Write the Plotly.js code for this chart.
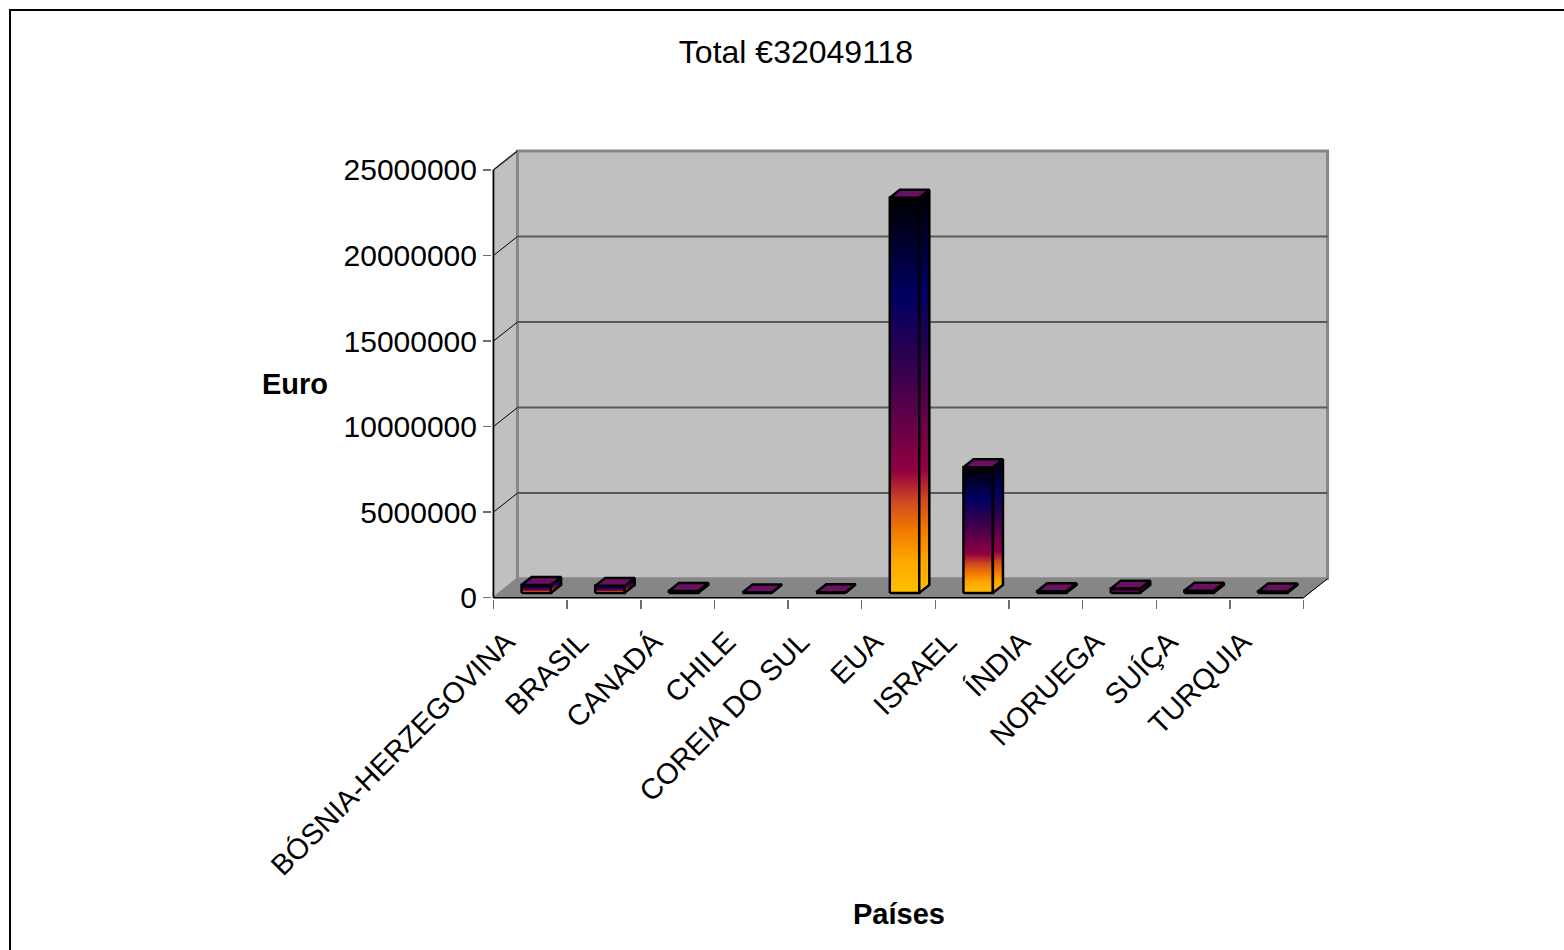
<!DOCTYPE html>
<html>
<head>
<meta charset="utf-8">
<script src="https://cdn.plot.ly/plotly-3.0.1.min.js"></script>
<style>
  html, body { margin: 0; padding: 0; background: #fff; overflow: hidden; }
  #chart { width: 1564px; height: 950px; }
  #frame { position: absolute; left: 9px; top: 9px; width: 1600px; height: 1000px;
           border-top: 2px solid #000; border-left: 2px solid #000; pointer-events: none; }
</style>
</head>
<body>
<div id="chart"></div>
<div id="frame"></div>
<script>
// Exportações por país (Euro)
const paises = ['BÓSNIA-HERZEGOVINA', 'BRASIL', 'CANADÁ', 'CHILE', 'COREIA DO SUL',
                'EUA', 'ISRAEL', 'ÍNDIA', 'NORUEGA', 'SUÍÇA', 'TURQUIA'];
const valores = [460000, 410000, 110000, 30000, 40000,
                 23100000, 7350000, 100000, 250000, 120000, 80000];
const yTicks = [0, 5000000, 10000000, 15000000, 20000000, 25000000];
const titulo = 'Total €32049118';
const tituloY = 'Euro';
const tituloX = 'Países';

// Page geometry (pixels) of the front frame of the 3D box
const W = 1564, H = 950;
const xLeftPx = 491, unitPx = 73.64;     // x = -0.5 sits at xLeftPx
const yZeroPx = 598, pxPerVal = 17.12e-6; // value 0 sits at yZeroPx
const depthPx = [24, 19];                 // offset of the back wall
const xRange = [-0.52, 10.9];
const yRange = [-80000, 26400000];

const l = Math.round(xLeftPx - (xRange[0] + 0.5) * unitPx);
const plotW = (xRange[1] - xRange[0]) * unitPx;
const r = Math.round(W - l - plotW);
const b = Math.round(H - (yZeroPx - yRange[0] * pxPerVal));
const t = Math.round(yZeroPx - yRange[1] * pxPerVal);
const plotH = H - t - b;

const dX = depthPx[0] / unitPx;     // depth in x units
const dY = depthPx[1] / pxPerVal;   // depth in value units
const yTop = yTicks[yTicks.length - 1];
const n = paises.length;
const x0 = -0.5, x1 = n - 0.5;

const px2paperX = px => (px - l) / (W - l - r);
const px2paperY = py => (H - b - py) / plotH;

function poly(xs, ys, extra) {
  return Object.assign({
    type: 'scatter', mode: 'lines',
    x: xs.concat([xs[0]]), y: ys.concat([ys[0]]),
    fill: 'toself', hoverinfo: 'skip', showlegend: false
  }, extra);
}
function seg(xs, ys, color, width) {
  return { type: 'scatter', mode: 'lines', x: xs, y: ys, hoverinfo: 'skip',
           showlegend: false, line: { color: color, width: width } };
}

const traces = [];
const wallGray = '#c0c0c0', edgeGray = '#878787';

// floor
traces.push(poly([x0, x1, x1 + dX, x0 + dX], [0, 0, dY, dY],
  { fillcolor: '#868686', line: { color: '#868686', width: 1 } }));
// left wall
traces.push(poly([x0, x0 + dX, x0 + dX, x0], [0, dY, yTop + dY, yTop],
  { fillcolor: wallGray, line: { color: edgeGray, width: 2 } }));
// back wall
traces.push(poly([x0 + dX, x1 + dX, x1 + dX, x0 + dX], [dY, dY, yTop + dY, yTop + dY],
  { fillcolor: wallGray, line: { color: edgeGray, width: 3 } }));
// gridlines on back wall and diagonals on left wall
yTicks.forEach(v => {
  if (v > 0 && v < yTop) traces.push(seg([x0 + dX, x1 + dX], [v + dY, v + dY], '#5a5a5a', 2));
  if (v > 0) traces.push(seg([x0, x0 + dX], [v, v + dY], '#000', 1));
});
// floor right side edge
traces.push(seg([x1, x1 + dX], [0, dY], '#000', 1));
// front axis lines
traces.push(seg([x0, x0], [0, yTop], '#000', 1.5));
traces.push(seg([x0, x1], [0, 0], '#000', 1.5));

// bars
const rampa = [
  [0.00, '#ffc000'], [0.08, '#ffa800'], [0.16, '#f07800'], [0.23, '#d04a20'],
  [0.31, '#900040'], [0.43, '#640048'], [0.60, '#2a0050'], [0.75, '#000062'],
  [0.90, '#000028'], [1.00, '#000000']
];
const hw = 0.2, fa = 0.25, fb = 0.67;
const barLine = { color: '#000', width: 2.5 };
valores.forEach((v, i) => {
  const L = i - hw + fa * dX, R = i + hw + fa * dX;
  const Rb = i + hw + fb * dX, Lb = i - hw + fb * dX;
  const ya = fa * dY, yb = fb * dY;
  traces.push(poly([L, R, R, L], [ya, ya, v + ya, v + ya],
    { line: barLine, fillgradient: { type: 'vertical', colorscale: rampa } }));
  traces.push(poly([R, Rb, Rb, R], [ya, yb, v + yb, v + ya],
    { line: barLine, fillgradient: { type: 'vertical', colorscale: rampa } }));
  traces.push(poly([L, R, Rb, Lb], [v + ya, v + ya, v + yb, v + yb],
    { line: barLine, fillcolor: '#6a1060' }));
});

const fam = 'Liberation Sans, Arial, sans-serif';
const font = { family: fam, size: 29, color: '#000' };

const layout = {
  width: W, height: H,
  margin: { l: l, r: r, t: t, b: b, pad: 0 },
  paper_bgcolor: '#fff', plot_bgcolor: 'rgba(0,0,0,0)',
  showlegend: false,
  font: font,
  title: { text: titulo, font: { family: fam, size: 32, color: '#000' },
           x: 796 / W, xanchor: 'center',
           yref: 'container', y: 1 - 52 / H, yanchor: 'middle' },
  xaxis: {
    range: xRange, showgrid: false, zeroline: false, showline: false,
    tickmode: 'array', tickvals: paises.map((_, i) => i), ticktext: paises,
    ticks: '', tickangle: -45, tickfont: font,
    ticklabelstandoff: 19, ticklabelshift: -24,
    minor: { tickmode: 'linear', tick0: -0.5, dtick: 1, ticks: 'outside',
             ticklen: 9, tickwidth: 1.5, tickcolor: '#6e6e6e', showgrid: false },
    fixedrange: true
  },
  yaxis: {
    range: yRange, showgrid: false, zeroline: false, showline: false,
    tickmode: 'array', tickvals: yTicks, tickformat: 'd',
    ticks: 'outside', ticklen: 8, tickwidth: 1.5, tickcolor: '#6e6e6e',
    tickfont: { family: fam, size: 30, color: '#000' },
    ticklabelstandoff: 0, fixedrange: true
  },
  annotations: [
    { text: '<b>' + tituloY + '</b>', xref: 'paper', yref: 'paper',
      x: px2paperX(295), y: px2paperY(384), xanchor: 'center', yanchor: 'middle',
      showarrow: false, font: font },
    { text: '<b>' + tituloX + '</b>', xref: 'paper', yref: 'paper',
      x: px2paperX(899), y: px2paperY(914), xanchor: 'center', yanchor: 'middle',
      showarrow: false, font: font }
  ]
};

Plotly.newPlot('chart', traces, layout, { staticPlot: true, displayModeBar: false });
</script>
</body>
</html>
